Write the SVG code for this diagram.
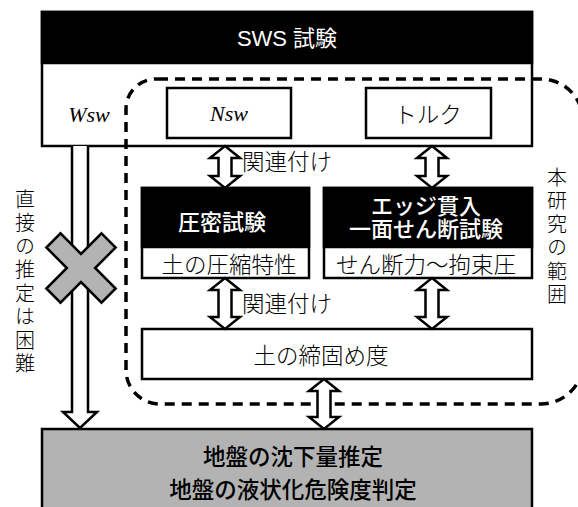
<svg xmlns="http://www.w3.org/2000/svg" width="578" height="507" viewBox="0 0 578 507">
<style>
.box{fill:#fff;stroke:#000;stroke-width:2.5}
.blk{fill:#000;stroke:#000;stroke-width:2.5}
.arr{fill:#fff;stroke:#000;stroke-width:2.5;stroke-linejoin:miter}
.jp{font-family:"Noto Sans CJK JP","Liberation Sans",sans-serif;font-size:22.5px;fill:#000;font-weight:300}
.jpw{font-family:"Liberation Sans","Noto Sans CJK JP",sans-serif;font-size:22px;fill:#fff}
.md{font-weight:500}
.it{font-family:"Liberation Serif",serif;font-style:italic;font-size:22px;fill:#000}
.c{text-anchor:middle;dominant-baseline:central}
.v{font-family:"Noto Sans CJK JP",sans-serif;font-size:20px;fill:#000;font-weight:300;writing-mode:vertical-rl;letter-spacing:3.5px}
</style>
<rect x="0" y="0" width="578" height="507" fill="#fff"/>
<g id="sws">
<rect class="box" x="42" y="12" width="490" height="134"/>
<rect class="blk" x="42" y="12" width="490" height="51"/>
<text class="jpw c" x="287" y="38" font-size="21">SWS 試験</text>
<text class="it c" x="89" y="114">Wsw</text>
</g>
<g id="scope">
<path d="M158,79 H541 A42,42 0 0 1 583,121 V362 A42,42 0 0 1 541,404 H160 A34,34 0 0 1 126,370 V109 A30,30 0 0 1 158,79 Z" fill="none" stroke="#000" stroke-width="3.5" stroke-dasharray="10,7"/>
<text class="v" x="557" y="167">本研究の範囲</text>
</g>
<g id="nsw">
<rect class="box" x="167" y="88" width="124" height="50"/>
<text class="it c" x="229" y="113">Nsw</text>
</g>
<g id="torque">
<rect class="box" x="366" y="88" width="125" height="50"/>
<text class="jp c" x="428" y="113">トルク</text>
</g>
<g id="consolidation">
<rect class="box" x="142" y="188" width="167" height="90"/>
<rect class="blk" x="142" y="188" width="167" height="59"/>
<text class="jpw c md" x="222" y="222">圧密試験</text>
<text class="jp c" x="229" y="263">土の圧縮特性</text>
</g>
<g id="shear">
<rect class="box" x="324" y="188" width="208" height="90"/>
<rect class="blk" x="324" y="188" width="208" height="59"/>
<text class="jpw c md" x="426" y="206">エッジ貫入</text>
<text class="jpw c md" x="426" y="229">一面せん断試験</text>
<text class="jp c" x="426" y="263">せん断力～拘束圧</text>
</g>
<g id="compaction">
<rect class="box" x="142" y="329" width="390" height="50"/>
<text class="jp c" x="321" y="354">土の締固め度</text>
</g>
<g id="result">
<rect x="42" y="429" width="490" height="82" fill="#b3b3b3" stroke="#000" stroke-width="2.5"/>
<text class="jp c md" x="293" y="455">地盤の沈下量推定</text>
<text class="jp c md" x="293" y="488">地盤の液状化危険度判定</text>
</g>
<g id="direct">
<text class="v" x="25" y="189">直接の推定は困難</text>
</g>
<g id="connectors">
<path class="arr" d="M72,146 V412 H63 L80,428 L97,412 H88 V146"/>
<path class="arr" d="M225,146 L240,158 H231.5 V176 H240 L225,188 L210,176 H218.5 V158 H210 Z"/>
<path class="arr" d="M432,146 L447,158 H438.5 V176 H447 L432,188 L417,176 H425.5 V158 H417 Z"/>
<path class="arr" d="M225,278 L240,290 H231.5 V317 H240 L225,329 L210,317 H218.5 V290 H210 Z"/>
<path class="arr" d="M432,278 L447,290 H438.5 V317 H447 L432,329 L417,317 H425.5 V290 H417 Z"/>
<path class="arr" d="M324,379 L339,391 H330.5 V417 H339 L324,429 L309,417 H317.5 V391 H309 Z"/>
<text class="jp" x="242" y="170">関連付け</text>
<text class="jp" x="242" y="312">関連付け</text>
<g transform="translate(81,268) rotate(45)">
<polygon points="-10,-39 10,-39 10,-10 39,-10 39,10 10,10 10,39 -10,39 -10,10 -39,10 -39,-10 -10,-10" fill="#b3b3b3" stroke="#000" stroke-width="2.5"/>
</g>
</g>
</svg>
